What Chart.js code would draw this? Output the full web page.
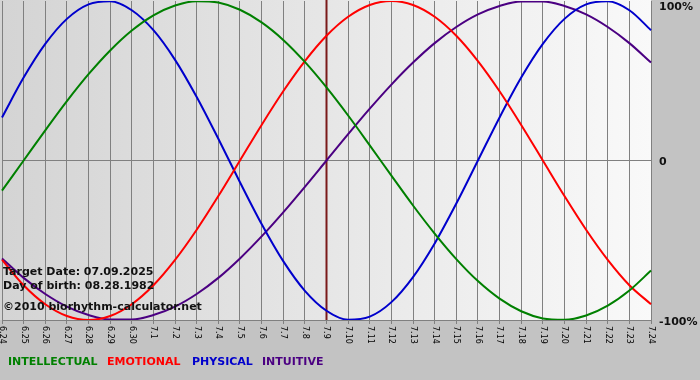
<!DOCTYPE html>
<html lang="en">
<head>
    <meta charset="UTF-8">
    <title>biorhythm</title>
    <script src="https://cdn.jsdelivr.net/npm/chart.js"></script>
    <style>
        body { margin: 0; background: #c3c3c3; }
        canvas { display: block; }
    </style>
</head>
<body>
    <canvas id="bioChart" width="700" height="380"></canvas>
    <script>
        // days shown, 6.24 .. 7.24
        var days = ['6.24', '6.25', '6.26', '6.27', '6.28', '6.29', '6.30',
            '7.1', '7.2', '7.3', '7.4', '7.5', '7.6', '7.7', '7.8', '7.9', '7.10', '7.11', '7.12',
            '7.13', '7.14', '7.15', '7.16', '7.17', '7.18', '7.19', '7.20', '7.21', '7.22', '7.23', '7.24'];
        var targetDay = '7.9';

        // values in percent
        var intellectual = [-18.9, 0, 18.9, 37.2, 54.1, 69.0, 81.5, 91.0, 97.2, 99.9, 99.0, 94.5, 86.6, 75.6, 61.8, 45.8,
            28.2, 9.5, -9.5, -28.2, -45.8, -61.8, -75.6, -86.6, -94.5, -99.0, -99.9, -97.2, -91.0, -81.5, -69.0];
        var emotional = [-62.3, -78.2, -90.1, -97.5, -100, -97.5, -90.1, -78.2, -62.3, -43.4, -22.3, 0, 22.3, 43.4, 62.3, 78.2,
            90.1, 97.5, 100, 97.5, 90.1, 78.2, 62.3, 43.4, 22.3, 0, -22.3, -43.4, -62.3, -78.2, -90.1];
        var physical = [27.0, 52.0, 73.1, 88.8, 97.9, 99.8, 94.2, 81.7, 63.1, 39.8, 13.6, -13.6, -39.8, -63.1, -81.7, -94.2,
            -99.8, -97.9, -88.8, -73.1, -52.0, -27.0, 0, 27.0, 52.0, 73.1, 88.8, 97.9, 99.8, 94.2, 81.7];
        var intuitive = [-61.4, -73.6, -83.7, -91.6, -96.9, -99.7, -99.7, -96.9, -91.6, -83.7, -73.6, -61.4, -47.6, -32.5, -16.5, 0,
            16.5, 32.5, 47.6, 61.4, 73.6, 83.7, 91.6, 96.9, 99.7, 99.7, 96.9, 91.6, 83.7, 73.6, 61.4];

        var yTicks = [100, 0, -100];
        var yTickText = ['100%', '0', '-100%'];
        var infoLines = ['Target Date: 07.09.2025', 'Day of birth: 08.28.1982', '\u00a92010 biorhythm-calculator.net'];

        var bold = 'bold 11px "DejaVu Sans", Verdana, sans-serif';
        var legendX = [8, 107, 192, 262];

        var backdrop = {
            id: 'backdrop',
            beforeDraw: function (chart) {
                var c = chart.ctx, a = chart.chartArea;
                c.save();
                c.fillStyle = '#c3c3c3';
                c.fillRect(0, 0, chart.width, chart.height);
                var g = c.createLinearGradient(a.left, 0, a.right, 0);
                g.addColorStop(0, '#d4d4d4');
                g.addColorStop(1, '#f9f9f9');
                c.fillStyle = g;
                c.fillRect(a.left - 2, a.top - 1, a.right - a.left + 2, a.bottom - a.top + 1);
                c.restore();
            },
            beforeDatasetsDraw: function (chart) {
                // target date marker
                var c = chart.ctx, a = chart.chartArea;
                var x = chart.scales.x.getPixelForValue(days.indexOf(targetDay));
                c.save();
                c.strokeStyle = '#7a1a1a';
                c.lineWidth = 2;
                c.beginPath();
                c.moveTo(x, 0);
                c.lineTo(x, a.bottom);
                c.stroke();
                c.restore();
            },
            afterDraw: function (chart) {
                var c = chart.ctx, a = chart.chartArea;
                var xs = chart.scales.x, ys = chart.scales.y;
                c.save();
                // rotated day labels
                c.fillStyle = '#000';
                c.font = '8px "DejaVu Sans", Tahoma, sans-serif';
                c.textAlign = 'left';
                c.textBaseline = 'middle';
                days.forEach(function (d, i) {
                    c.save();
                    c.translate(xs.getPixelForTick(i), a.bottom + 6);
                    c.rotate(Math.PI / 2);
                    c.fillText(d, 0, 0);
                    c.restore();
                });
                // right axis labels
                c.fillStyle = '#111';
                c.font = bold;
                yTicks.forEach(function (v, i) {
                    var y = Math.max(ys.getPixelForValue(v) + 2, 7);
                    c.fillText(yTickText[i], a.right + 8, y);
                });
                // info text
                infoLines.forEach(function (t, i) {
                    c.fillText(t, 3, 272 + i * 14 + (i == 2 ? 7 : 0));
                });
                // legend
                chart.data.datasets.forEach(function (ds, i) {
                    c.fillStyle = ds.borderColor;
                    c.fillText(ds.label, legendX[i], 362);
                });
                c.restore();
            }
        };

        var ctx = document.getElementById('bioChart').getContext('2d');
        var bioChart = new Chart(ctx, {
            type: 'line',
            data: {
                labels: days,
                datasets: [
                    { label: 'INTELLECTUAL', data: intellectual, borderColor: '#008000' },
                    { label: 'EMOTIONAL', data: emotional, borderColor: '#ff0000' },
                    { label: 'PHYSICAL', data: physical, borderColor: '#0000cc' },
                    { label: 'INTUITIVE', data: intuitive, borderColor: '#4b0082' }
                ]
            },
            options: {
                responsive: false,
                animation: false,
                layout: { padding: { left: 2, top: 1 } },
                elements: {
                    point: { radius: 0 },
                    line: { borderWidth: 2, cubicInterpolationMode: 'monotone', fill: false }
                },
                plugins: { legend: { display: false }, tooltip: { enabled: false } },
                scales: {
                    x: {
                        offset: false,
                        ticks: { display: false },
                        grid: { color: '#808080', tickColor: '#808080', tickLength: 4, offset: false },
                        border: { color: '#808080' },
                        afterFit: function (s) { s.height = 60; }
                    },
                    y: {
                        position: 'right',
                        min: -100,
                        max: 100,
                        ticks: { display: false, stepSize: 100 },
                        grid: {
                            drawTicks: false,
                            color: function (c) { return c.tick && c.tick.value === 0 ? '#808080' : 'rgba(0,0,0,0)'; }
                        },
                        border: { display: false },
                        afterFit: function (s) { s.width = 49; }
                    }
                }
            },
            plugins: [backdrop]
        });
    </script>
</body>
</html>
